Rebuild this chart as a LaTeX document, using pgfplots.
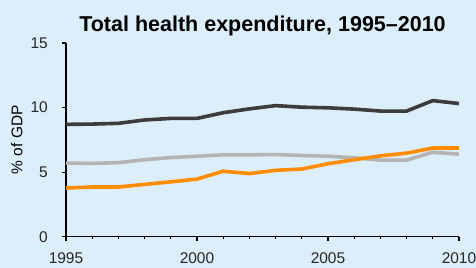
\documentclass[border=0pt]{standalone}
\usepackage{pgfplots}
\pgfplotsset{compat=1.18}
\usepackage{fontspec}
\setmainfont{Liberation Sans}
\definecolor{bgc}{RGB}{220,238,250}
\definecolor{darkl}{RGB}{60,60,60}
\definecolor{grayl}{RGB}{180,180,180}
\definecolor{orangel}{RGB}{255,140,0}
\begin{document}
\begin{tikzpicture}
\fill[bgc] (0,0) rectangle (476bp,268bp);
\begin{axis}[
  at={(66bp,31.3bp)}, anchor=south west,
  scale only axis, width=393bp, height=193.7bp,
  xmin=1995, xmax=2010, ymin=0, ymax=15,
  axis lines=left,
  axis line style={-, line width=1.4bp, black},
  xtick={1995,2000,2005,2010},
  minor xtick={1996,1997,1998,1999,2001,2002,2003,2004,2006,2007,2008,2009},
  ytick={0,5,10,15},
  tick align=outside,
  major tick length=4bp, minor tick length=2.5bp,
  every tick/.style={black, line width=1.2bp},
  /pgf/number format/assume math mode=true,
  /pgf/number format/set thousands separator={},
  tick label style={font=\fontsize{15.5bp}{18bp}\selectfont, text=black!85},
  yticklabel style={anchor=east, inner sep=0pt, xshift=-14bp},
  xticklabel style={anchor=north, inner sep=0pt, yshift=-12bp},
  ylabel={\% of GDP},
  ylabel style={font=\fontsize{15.5bp}{18bp}\selectfont, at={(axis description cs:-0.125,0.5)}, anchor=center},
  title={\textbf{Total health expenditure, 1995--2010}},
  title style={font=\fontsize{21.5bp}{24bp}\selectfont, at={(axis description cs:0.5,1)}, anchor=base, yshift=6bp, inner sep=0pt},
  clip=false,
]
\addplot[grayl, line width=3.6bp] coordinates {
(1995,5.70) (1996,5.68) (1997,5.73) (1998,5.96) (1999,6.13) (2000,6.23) (2001,6.34) (2002,6.34)
(2003,6.36) (2004,6.29) (2005,6.23) (2006,6.11) (2007,5.93) (2008,5.93) (2009,6.54) (2010,6.39)};
\addplot[darkl, line width=3.6bp] coordinates {
(1995,8.70) (1996,8.72) (1997,8.78) (1998,9.04) (1999,9.16) (2000,9.16) (2001,9.60) (2002,9.90)
(2003,10.15) (2004,10.03) (2005,9.98) (2006,9.88) (2007,9.73) (2008,9.73) (2009,10.54) (2010,10.31)};
\addplot[orangel, line width=3.6bp] coordinates {
(1995,3.77) (1996,3.85) (1997,3.85) (1998,4.05) (1999,4.25) (2000,4.46) (2001,5.07) (2002,4.89)
(2003,5.14) (2004,5.24) (2005,5.65) (2006,5.96) (2007,6.26) (2008,6.47) (2009,6.87) (2010,6.87)};
\end{axis}
\pgfresetboundingbox
\path (0,0) rectangle (476bp,268bp);
\end{tikzpicture}
\end{document}
